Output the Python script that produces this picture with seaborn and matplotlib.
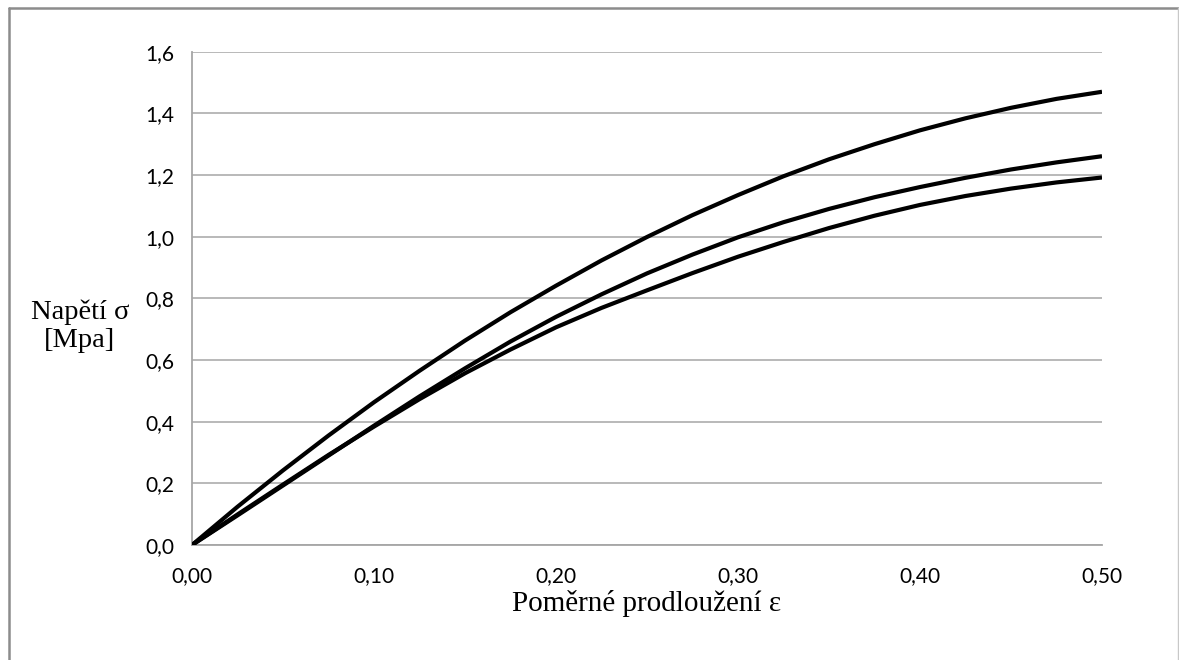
import matplotlib
matplotlib.use("Agg")
import matplotlib.pyplot as plt
import seaborn as sns
import pandas as pd
from matplotlib.lines import Line2D

# Data
strain = [0.000, 0.025, 0.050, 0.075, 0.100, 0.125, 0.150, 0.175, 0.200, 0.225,
          0.250, 0.275, 0.300, 0.325, 0.350, 0.375, 0.400, 0.425, 0.450, 0.475, 0.500]
stress_a = [0.0, 0.124, 0.242, 0.355, 0.463, 0.565, 0.663, 0.755, 0.841, 0.923,
            0.999, 1.070, 1.135, 1.196, 1.251, 1.300, 1.345, 1.384, 1.418, 1.447, 1.470]
stress_b = [0.0, 0.096, 0.193, 0.290, 0.387, 0.482, 0.573, 0.660, 0.740, 0.813,
            0.881, 0.942, 0.998, 1.047, 1.090, 1.128, 1.161, 1.191, 1.218, 1.241, 1.261]
stress_c = [0.0, 0.099, 0.196, 0.292, 0.384, 0.473, 0.557, 0.634, 0.706, 0.769,
            0.826, 0.882, 0.935, 0.983, 1.028, 1.068, 1.103, 1.132, 1.156, 1.176, 1.192]

x_ticks = [0.00, 0.10, 0.20, 0.30, 0.40, 0.50]
x_tick_labels = ["0,00", "0,10", "0,20", "0,30", "0,40", "0,50"]
y_ticks = [0.0, 0.2, 0.4, 0.6, 0.8, 1.0, 1.2, 1.4, 1.6]
y_tick_labels = ["0,0", "0,2", "0,4", "0,6", "0,8", "1,0", "1,2", "1,4", "1,6"]
x_label = "Poměrné prodloužení ε"
y_label = "Napětí σ\n[Mpa]"

df = pd.concat([
    pd.DataFrame({"strain": strain, "stress": stress_a, "series": "A"}),
    pd.DataFrame({"strain": strain, "stress": stress_b, "series": "B"}),
    pd.DataFrame({"strain": strain, "stress": stress_c, "series": "C"}),
])

sns.set_theme(style="white")
plt.rcParams["font.family"] = ["Lato", "DejaVu Sans"]

W, H = 1179, 660
fig = plt.figure(figsize=(W / 100, H / 100), dpi=100)
ax = fig.add_axes([192 / W, 1 - 545 / H, (1102 - 192) / W, (545 - 51.7) / H])

sns.lineplot(data=df, x="strain", y="stress", hue="series",
             palette=["black", "black", "black"], linewidth=3.0,
             legend=False, ax=ax, zorder=3)
for ln in ax.get_lines():
    ln.set_solid_capstyle("butt")
    ln.set_solid_joinstyle("round")

ax.set_xlim(0, 0.5)
ax.set_ylim(0, 1.6)
ax.set_xticks(x_ticks)
ax.set_xticklabels(x_tick_labels)
ax.set_yticks(y_ticks)
ax.set_yticklabels(y_tick_labels)
ax.yaxis.grid(True, color="#b3b3b3", linewidth=1.3)
ax.xaxis.grid(False)
for s in ["top", "right"]:
    ax.spines[s].set_visible(False)
for s in ["left", "bottom"]:
    ax.spines[s].set_color("#a6a6a6")
    ax.spines[s].set_linewidth(1.3)
ax.tick_params(axis="both", which="major", direction="out", length=5,
               width=1.3, color="#a6a6a6", labelsize=15, labelcolor="black")
ax.tick_params(axis="y", pad=8)
ax.tick_params(axis="x", pad=10)
ax.set_xlabel(x_label, family=["Liberation Serif", "DejaVu Serif"],
              fontsize=21, labelpad=3, color="black")
ax.set_ylabel("")
fig.text(80 / W, 1 - 326 / H, y_label, family=["Liberation Serif", "DejaVu Serif"],
         fontsize=20.5, ha="center", va="center", linespacing=1.15, color="black")

# outer chart frame
fig.add_artist(Line2D([9 / W, 9 / W], [0, 1 - 8 / H], transform=fig.transFigure,
                      color="#8c8c8c", linewidth=1.8))
fig.add_artist(Line2D([9 / W, 1177.5 / W], [1 - 8 / H, 1 - 8 / H], transform=fig.transFigure,
                      color="#8c8c8c", linewidth=1.8))
fig.add_artist(Line2D([1177.5 / W, 1177.5 / W], [0, 1 - 8 / H], transform=fig.transFigure,
                      color="#c8c8c8", linewidth=1.0))

fig.savefig("out.png", dpi=100)
